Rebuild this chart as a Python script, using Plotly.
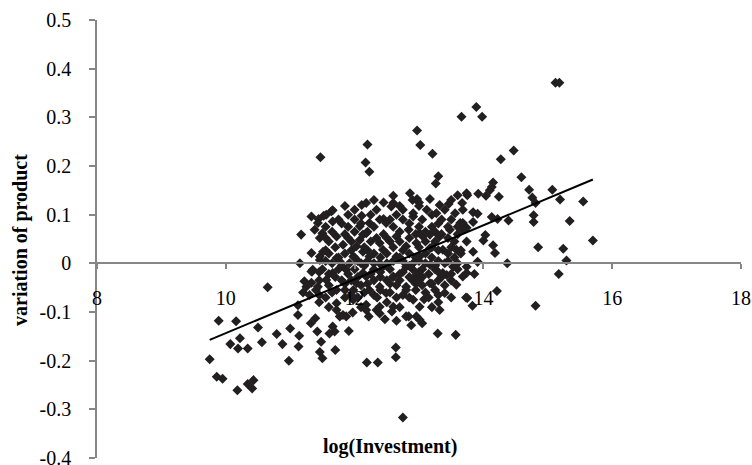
import plotly.graph_objects as go

# ---- data (log(Investment), variation of product) ----
left_tail = [(10.65,-0.049),(9.89,-0.118),(10.16,-0.119),(10.50,-0.132),(10.22,-0.154),(10.07,-0.166),
    (10.19,-0.175),(10.34,-0.175),(10.56,-0.162),(10.79,-0.145),(10.88,-0.166),(11.00,-0.134),(11.14,-0.149),
    (11.13,-0.171),(10.98,-0.200),(9.75,-0.197),(9.86,-0.233),(9.95,-0.237),(10.18,-0.261),(10.34,-0.248),
    (10.43,-0.240),(10.41,-0.257),(11.12,-0.086),(11.12,-0.106),(11.32,-0.123),(11.39,-0.113),(11.42,-0.140),
    (11.48,-0.161),(11.46,-0.182),(11.50,-0.195),(11.20,-0.060),(11.22,-0.037),(11.33,-0.040),(11.43,-0.048),
    (11.33,-0.017)]

lower_part = [(11.70,-0.178),(11.91,-0.139),(12.19,-0.204),(12.36,-0.204),(12.64,-0.173),(12.64,-0.193),
    (12.75,-0.317),(13.29,-0.144),(13.57,-0.147),(13.32,-0.096),(13.40,-0.061),(13.73,-0.070),(13.08,-0.074),
    (13.05,-0.123),(12.88,-0.127),(12.96,-0.109),(12.84,-0.109),(12.65,-0.118),(12.47,-0.115),(12.58,-0.099),
    (12.22,-0.109),(11.97,-0.101),(11.82,-0.106),(11.69,-0.140),(12.34,-0.096),(11.72,-0.082),(12.18,-0.085),
    (12.39,-0.089),(12.91,-0.075),(13.17,-0.041),(13.43,-0.024),(13.58,-0.044),(13.68,-0.027),(12.80,-0.055),
    (12.49,-0.061),(12.23,-0.055),(11.98,-0.055),(11.72,-0.055),(11.77,-0.109),(11.61,-0.144),
    (11.72,-0.096),(11.66,-0.130),(11.87,-0.109),(11.98,-0.075),(12.18,-0.096),(12.39,-0.103),(12.60,-0.089),
    (12.80,-0.109),(13.01,-0.116),(13.01,-0.089)]

right_part = [(15.12,0.371),(15.18,0.371),(13.89,0.321),(13.98,0.301),(13.66,0.301),(14.47,0.232),(14.27,0.214),
    (14.59,0.177),(14.15,0.166),(14.13,0.157),(14.10,0.150),(14.71,0.151),(15.07,0.151),(14.76,0.135),
    (14.81,0.124),(15.19,0.131),(15.55,0.127),(14.24,0.137),(14.04,0.139),(13.92,0.143),(13.75,0.140),
    (13.67,0.124),(13.84,0.105),(13.91,0.102),(13.84,0.085),(14.13,0.095),(14.22,0.091),(14.39,0.088),
    (14.78,0.099),(14.78,0.085),(15.34,0.087),(13.68,0.083),(13.68,0.069),(14.03,0.058),(14.00,0.047),
    (14.15,0.037),(14.85,0.033),(15.24,0.030),(15.70,0.047),(14.18,0.021),(13.84,0.024),(13.91,0.003),
    (14.37,0.000),(15.29,0.006),(15.17,-0.022),(13.74,-0.020),(13.86,-0.022),(14.21,-0.057),(13.75,-0.071),
    (13.83,-0.087),(14.81,-0.087)]

upper_part = [(12.97,0.273),(12.20,0.244),(13.02,0.243),(13.21,0.225),(12.17,0.207),(12.23,0.188),(13.30,0.179),
    (13.26,0.164),(11.47,0.218),(11.33,0.096),(11.17,0.059),(11.44,0.091),(11.50,0.062),(11.52,0.098),
    (11.64,0.107),(11.38,0.069),(11.15,0.000),(11.33,0.021),(11.46,0.014),(11.34,-0.017)]

core_part = [(12.60,0.139),(12.86,0.144),(12.97,0.132),(13.17,0.132),(13.32,0.120),(13.46,0.122),(13.60,0.140),
    (13.74,0.144),(12.57,0.117),(12.11,0.120),(11.66,0.109),(12.34,0.110),(12.11,0.098),(11.66,0.086),
    (12.45,0.091),(12.23,0.083),(12.75,0.090),(12.91,0.096),(13.12,0.110),(13.27,0.103),(13.40,0.110),
    (13.56,0.103),(13.68,0.110),(13.64,0.083),(12.84,0.069),(13.01,0.062),(13.17,0.059),(12.13,0.059),
    (12.34,0.052),(12.65,0.055),(11.82,0.038),(12.03,0.035),(12.44,0.028),(12.80,0.035),(13.32,0.055),
    (13.48,0.069),(13.74,0.073),(13.74,0.045),(12.96,0.042),(12.23,0.014),(12.65,0.014),(13.01,0.014),
    (13.17,0.031),(13.37,0.028),(13.58,0.028),(11.72,0.011),(11.92,0.000),(12.44,-0.007),(12.80,-0.007),
    (13.17,-0.003),(13.53,-0.007),(13.74,-0.007),(12.13,-0.020),(12.96,-0.024),(13.37,-0.020),(12.60,-0.027),
    (11.56,0.100),(11.43,0.083),(11.51,0.024),(11.46,0.007),(11.35,-0.013),(11.66,-0.020),(11.56,-0.034),
    (11.77,0.004),(11.87,-0.013),(11.98,0.014),(12.13,0.024),(12.08,0.048),(11.72,0.055),(11.46,0.052),
    (11.25,-0.048),(11.30,-0.065),(12.03,-0.041),(12.18,-0.027),(12.39,-0.048),(12.80,-0.048),(13.01,-0.034),
    (12.91,0.000),(12.39,0.000),(13.06,0.055),(12.39,0.042),(12.18,0.062),(12.49,0.083),(12.91,0.103),
    (12.60,0.124),(12.18,0.124),(12.39,0.090),(12.08,0.076)]

dense_fill = [(11.55,0.075),(11.90,0.075),(12.30,0.075),(12.60,0.075),(13.00,0.075),(13.20,0.075),(13.45,0.075),
    (13.60,0.075),(11.60,0.045),(11.95,0.045),(12.25,0.045),(12.55,0.045),(12.70,0.045),(13.10,0.045),
    (13.25,0.045),(13.55,0.045),(11.60,0.020),(11.85,0.020),(12.30,0.020),(12.50,0.020),(12.85,0.020),
    (13.10,0.020),(13.45,0.020),(13.65,0.020),(11.55,0.005),(12.05,0.005),(12.20,0.005),(12.60,0.005),
    (12.75,0.005),(13.00,0.005),(13.30,0.005),(13.45,0.005),(11.50,-0.012),(11.75,-0.012),(12.00,-0.012),
    (12.30,-0.012),(12.55,-0.012),(12.90,-0.012),(13.05,-0.012),(13.25,-0.012),(13.60,-0.012),(11.45,-0.035),
    (11.80,-0.035),(11.95,-0.035),(12.30,-0.035),(12.50,-0.035),(12.70,-0.035),(12.90,-0.035),(13.30,-0.035),
    (13.50,-0.035),(11.60,-0.045),(12.10,-0.045),(12.65,-0.045),(13.05,-0.045),(13.40,-0.045),(11.55,-0.070),
    (11.85,-0.070),(12.05,-0.070),(12.35,-0.070),(12.65,-0.070),(12.85,-0.070),(13.15,-0.070),(13.50,-0.070),
    (11.45,-0.080),(12.50,-0.080),(13.30,-0.080),(12.00,0.110),(12.45,0.125),(12.75,0.110),(13.00,0.125)]

dense_fill_2 = [(11.75,0.090),(12.00,0.090),(12.55,0.090),(13.05,0.090),(13.35,0.090),(13.50,0.090),
    (11.85,0.060),(12.45,0.060),(12.95,0.060),(13.35,0.060),(13.60,0.060),
    (11.70,0.033),(12.15,0.033),(12.60,0.033),(13.00,0.033),(13.20,0.033),(13.50,0.033),
    (11.65,0.000),(12.10,0.000),(12.30,0.000),(12.50,0.000),(13.10,0.000),(13.40,0.000),(13.60,0.000),
    (11.60,-0.022),(11.90,-0.022),(12.25,-0.022),(12.70,-0.022),(13.15,-0.022),(13.50,-0.022),
    (11.40,-0.055),(11.85,-0.055),(12.40,-0.055),(12.95,-0.055),(13.25,-0.055),
    (11.60,-0.090),(12.10,-0.090),(12.70,-0.090),(13.20,-0.090),
    (12.30,0.130),(12.90,0.130),(13.50,0.130)]

dense_fill_3 = [(11.65,0.065),(12.00,0.065),(12.20,0.065),(12.70,0.065),(13.10,0.065),(13.25,0.065),
    (11.75,0.012),(12.00,0.012),(12.40,0.012),(12.70,0.012),(12.95,0.012),(13.20,0.012),(13.55,0.012),
    (11.70,-0.028),(12.05,-0.028),(12.40,-0.028),(12.60,-0.028),(12.85,-0.028),(13.05,-0.028),(13.35,-0.028),
    (11.65,-0.060),(12.15,-0.060),(12.55,-0.060),(13.10,-0.060),
    (11.90,0.100),(12.25,0.100),(12.65,0.100),(13.20,0.100)]

dense_fill_4 = [(11.55,0.052),(11.90,0.052),(12.50,0.052),(12.85,0.052),(13.45,0.052),
    (11.55,0.027),(11.95,0.027),(12.20,0.027),(12.75,0.027),(13.30,0.027),(13.65,0.027),
    (11.80,-0.005),(12.15,-0.005),(12.50,-0.005),(12.85,-0.005),(13.25,-0.005),
    (11.45,-0.018),(12.40,-0.018),(12.75,-0.018),(13.00,-0.018),(13.30,-0.018),
    (11.85,-0.042),(12.20,-0.042),(12.55,-0.042),(12.95,-0.042),(13.20,-0.042),
    (11.45,-0.065),(11.95,-0.065),(12.30,-0.065),(12.75,-0.065),(13.30,-0.065),
    (11.80,0.082),(12.10,0.082),(12.85,0.082),(13.30,0.082),
    (11.85,0.118),(12.70,0.118),(13.00,0.118)]

all_points = (left_tail + lower_part + right_part + upper_part + core_part
              + dense_fill + dense_fill_2 + dense_fill_3 + dense_fill_4)
log_investment = [p[0] for p in all_points]
variation = [p[1] for p in all_points]

# linear trendline
trend_slope = 0.0554
trend_intercept = -0.6975
trend_x = [min(log_investment), max(log_investment)]
trend_y = [trend_slope * v + trend_intercept for v in trend_x]

x_ticks = [8, 10, 12, 14, 16, 18]
y_ticks = [0.5, 0.4, 0.3, 0.2, 0.1, 0, -0.1, -0.2, -0.3, -0.4]

FONT = "Liberation Serif"
AXIS = "#868686"

W, H = 752, 465
L, T, R, B = 97, 20, 11, 7

fig = go.Figure()
fig.add_trace(go.Scatter(x=log_investment, y=variation, mode="markers",
                         marker=dict(symbol="diamond", size=7.7, color="#231f20", line=dict(width=0)),
                         showlegend=False, hoverinfo="skip"))
fig.add_trace(go.Scatter(x=trend_x, y=trend_y, mode="lines",
                         line=dict(color="black", width=2), showlegend=False, hoverinfo="skip"))

pw = W - L - R
ph = H - T - B
fig.update_layout(
    width=W, height=H,
    margin=dict(l=L, r=R, t=T, b=B, autoexpand=False),
    paper_bgcolor="white", plot_bgcolor="white",
    font=dict(family=FONT, size=20, color="black"),
    xaxis=dict(range=[8, 18], tickvals=x_ticks, ticktext=[str(v) for v in x_ticks],
               showgrid=False, zeroline=False, showline=True, linecolor=AXIS, linewidth=1.5,
               ticks="outside", ticklen=5, tickcolor=AXIS, tickwidth=1.5,
               anchor="free", position=4/9, ticklabelstandoff=12, automargin=False,
               ticklabeloverflow="allow",
               tickfont=dict(family=FONT, size=20, color="black")),
    yaxis=dict(range=[-0.4, 0.5], tickvals=y_ticks, ticktext=["%g" % v for v in y_ticks],
               domain=[0, 1], automargin=False,
               showgrid=False, zeroline=False, showline=True, linecolor=AXIS, linewidth=1.5,
               ticks="outside", ticklen=6, tickcolor=AXIS, tickwidth=1.5,
               ticklabelstandoff=14, ticklabeloverflow="allow",
               tickfont=dict(family=FONT, size=20, color="black")),
    annotations=[
        dict(text="<b>log(Investment)</b>", xref="paper", yref="paper", x=(389.5-L)/pw, y=(ph+T-446)/ph,
             xanchor="center", yanchor="middle", showarrow=False, font=dict(family=FONT, size=20, color="black")),
        dict(text="<b>variation of product</b>", xref="paper", yref="paper", x=(20-L)/pw, y=(ph+T-240)/ph,
             xanchor="center", yanchor="middle", textangle=-90, showarrow=False,
             font=dict(family=FONT, size=20, color="black")),
    ],
)

# remove the default 8px page margin so the 752x465 figure fills the window exactly
fig.write_html("out.html", config={"displayModeBar": False},
               post_script="document.body.style.margin='0px';")
